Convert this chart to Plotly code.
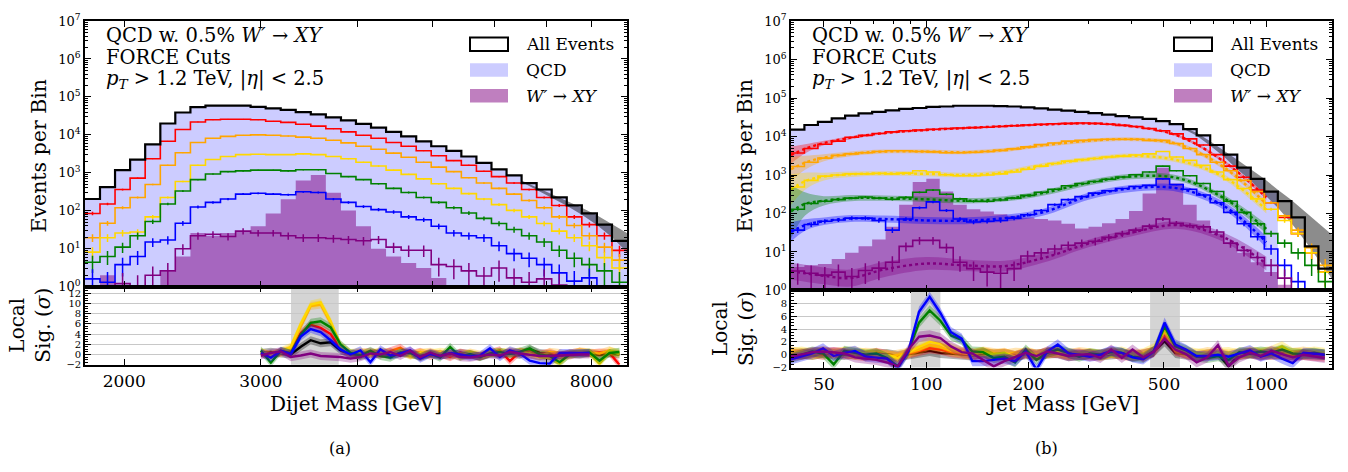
import numpy as np
import plotly.graph_objects as go

FONT = "DejaVu Serif"
W, H = 1348, 472

# ======================= panel (a): dijet mass =======================
mjj_edges = [1780, 1861, 1946, 2035, 2128, 2226, 2327, 2434, 2545, 2661, 2783, 2910,
             3043, 3182, 3327, 3479, 3638, 3805, 3978, 4160, 4350, 4549, 4757, 4974,
             5202, 5439, 5688, 5948, 6220, 6504, 6801, 7112, 7437, 7777, 8133, 8505, 8893]

a_all = [204, 417, 1175, 2239, 5623, 19950, 38900, 53700, 58900, 58900, 58900, 55000,
         50100, 45700, 39800, 34700, 28800, 24000, 19500, 15500, 12000, 9120, 6760, 5010,
         3800, 2690, 1820, 1230, 851, 537, 363, 224, 138, 85, 43, 16]
a_qcd = [203, 414, 1170, 2230, 5620, 19900, 38800, 53600, 58800, 58800, 58800, 54900,
         50000, 45500, 39200, 33800, 28500, 23900, 19400, 15500, 12000, 9110, 6750, 5000,
         3800, 2690, 1820, 1230, 850, 536, 362, 224, 138, 85, 43, 16]
a_sig = [0.5, 2.0, 0.5, 0.5, 0.5, 2.5, 6.2, 26, 22, 26, 29, 39,
         85, 200, 630, 870, 300, 102, 39, 10, 6.2, 4.2, 3.1, 1.7,
         0.5, 0.5, 0.5, 0.5, 0.5, 0.5, 0.5, 0.5, 0.5, 0.5, 0.5, 0.5]
a_red = [85, 151, 363, 724, 2344, 6761, 13800, 21900, 25100, 25700, 25700, 25100,
         22900, 21400, 19100, 17000, 14500, 12000, 9770, 8130, 6310, 5010, 3800, 2820,
         2090, 1585, 1096, 794, 537, 363, 224, 138, 69, 43, 22, 9]
a_orange = [19.5, 47, 120, 224, 490, 1585, 3390, 6310, 8130, 9120, 9770, 10000,
            9770, 9330, 8710, 8130, 7240, 6170, 5010, 4170, 3310, 2570, 1905, 1413,
            1072, 741, 537, 389, 275, 186, 120, 69, 41, 22, 11, 5]
a_gold = [8.1, 19.5, 26, 27.5, 69, 224, 589, 1585, 2240, 2690, 3020, 3090,
          3020, 3020, 3160, 3020, 2690, 2340, 1905, 1514, 1175, 912, 692, 513,
          389, 282, 204, 145, 102, 69, 46, 29, 19.5, 12, 5.8, 3.1]
a_green = [4.4, 6.2, 11, 22, 52, 151, 331, 661, 933, 1072, 1122, 1175,
           1175, 1122, 1202, 1202, 955, 794, 661, 513, 389, 302, 224, 166,
           120, 87, 63, 46, 32, 22, 15, 9.1, 5.6, 3.8, 2.6, 1.3]
a_blue = [1.6, 1.3, 3.8, 6.2, 15, 17, 47, 126, 166, 204, 275, 288,
          275, 263, 316, 302, 204, 166, 129, 107, 93, 69, 58, 39,
          26, 22, 19.5, 12, 7.4, 5.6, 3.8, 2.3, 1.4, 1.7, 0.8, 0.5]
a_purple = [0.5, 0.6, 1.2, 1.0, 2.0, 2.6, 10, 22, 24, 21, 29, 26,
            26, 22, 19.5, 19.5, 18.6, 17.4, 16.2, 17.4, 11, 9.1, 9.1, 3.8,
            3.4, 2.6, 1.9, 3.1, 1.7, 1.3, 1.6, 1.1, 0.5, 0.5, 0.5, 0.5]
# fit band on the inclusive spectrum (upper / lower edges)
a_band_x = [6504, 6801, 7112, 7437, 7777, 8133, 8505, 8893]
a_band_hi = [631, 417, 282, 186, 120, 76, 45, 26]
a_band_lo = [575, 355, 224, 135, 79, 42, 20, 8]

# local significance, panel (a)
a_sig_x = [3000, 3090, 3183, 3278, 3377, 3478, 3582, 3690, 3800, 3914, 4032, 4153, 4277,
           4406, 4538, 4674, 4814, 4959, 5107, 5261, 5418, 5581, 5748, 5921, 6098, 6281,
           6470, 6664, 6864, 7070, 7282, 7500, 7725, 7957, 8196, 8442, 8695]
a_z_black = [0.3, 0.5, 0.2, 0.0, 1.5, 2.8, 2.2, 2.4, 0.8, 0.0, -0.3, 0.2, 0.3, -0.2, 0.4,
             0.1, -0.3, 0.2, 0.0, -0.2, 0.3, 0.1, -0.4, 0.2, 0.0, 0.3, -0.1, 1.0, 0.3, 0.1,
             -0.2, 0.2, 0.0, 0.3, -0.1, 0.2, 0.0]
a_z_red = [0.2, -0.2, 0.5, 0.7, 4.2, 5.8, 5.2, 4.0, 1.2, 0.0, 0.3, 0.5, 0.0, 0.6, 1.3, 0.0,
           0.5, -0.3, 0.2, -0.5, 0.4, 0.0, -0.4, 0.3, 0.8, -1.3, 0.5, 0.4, 0.0, 0.4, -0.3,
           0.2, 0.5, 0.2, 0.4, 0.3, -2.0]
a_z_orange = [0.4, 0.0, 0.3, 1.2, 5.5, 9.5, 9.8, 6.2, 1.5, 0.2, 0.4, 0.0, 0.5, 0.3, 0.6,
              -0.2, 0.3, 0.5, 0.0, 0.2, -0.3, 0.4, 0.0, 0.3, 0.5, 0.2, 0.6, 0.0, -0.4, 0.5,
              0.3, -0.3, 0.6, 0.4, 0.2, 0.8, 0.0]
a_z_gold = [0.5, -0.3, 0.6, 1.5, 6.0, 9.8, 10.2, 6.5, 1.8, 0.3, 0.5, 0.2, 0.6, 0.3, 0.8,
            -0.2, 0.4, 0.2, 0.5, 0.3, -0.4, 0.2, -0.3, 0.5, 0.3, 0.6, 0.4, 0.2, -0.5, -0.8,
            -1.8, 0.2, 0.5, 0.3, -1.9, 0.7, 0.3]
a_z_green = [0.8, -1.6, 0.7, 0.2, 3.8, 6.2, 6.5, 5.3, 2.0, 0.3, -0.2, 0.7, -0.3, -0.6, 0.4,
             0.3, -0.5, 0.2, -0.6, 1.5, -0.4, 0.1, -0.5, 0.2, 0.5, 0.1, 0.5, 1.2, 0.0, -0.3,
             -1.5, 0.0, 0.2, 0.4, -1.2, 0.3, 0.5]
a_z_blue = [0.3, -0.6, 0.7, 0.1, 3.5, 5.0, 4.4, 2.8, 1.0, 0.0, 0.8, -1.5, 1.0, -0.2, 0.2,
            0.8, -0.8, 0.1, -0.3, 0.3, 0.0, -0.4, -0.2, 1.2, -0.5, 0.8, 0.2, -1.2, -1.7,
            -1.8, 0.3, 0.3, 0.3, 0.3, None, None, None]
a_z_purple = [-0.2, 0.3, 0.6, -0.5, -0.2, 0.2, -0.3, -0.4, -0.5, -0.8, -0.5, 0.2, 0.0, 0.5,
              -0.3, 0.7, -0.5, 0.4, -0.3, 0.2, -0.5, -0.6, -0.3, 0.0, -0.2, 0.5, 0.2, 0.0,
              -0.3, -0.3, -0.2, 0.0, 0.0, 0.0, None, None, None]
a_window = [3280, 3780]

# ======================= panel (b): jet mass =======================
mj_edges = [40, 43.8, 48, 52.7, 57.7, 63.2, 69.3, 75.9, 83.2, 91.2, 100, 109.5, 120, 131.5,
            144.2, 158, 173.1, 189.7, 207.9, 227.9, 249.7, 273.7, 299.9, 328.7, 360.2,
            394.7, 432.6, 474.1, 519.5, 569.4, 624, 683.8, 749.4, 821.3, 900, 986.3, 1081,
            1185, 1298, 1423, 1560]
b_all = [15100, 19950, 24000, 29500, 34700, 39800, 43700, 47900, 52500, 55000, 58900, 60300,
         63100, 63100, 63100, 61700, 60300, 57500, 53700, 50100, 46800, 43700, 40700, 37200,
         33900, 31600, 28800, 25100, 20900, 15500, 10700, 6030, 3390, 1550, 794, 372, 209, 79,
         14, 3.7]
b_qcd = [15000, 19900, 24000, 29500, 34700, 39800, 43700, 47900, 52300, 54500, 58200, 59900,
         63000, 63000, 63000, 61600, 60200, 57400, 53600, 50000, 46700, 43600, 40600, 37100,
         33800, 31500, 28500, 23500, 20300, 15300, 10600, 6000, 3370, 1540, 790, 370,
         0.01, 0.01, 0.01, 0.01]
b_sig = [4.1, 4.5, 4.9, 6.6, 9.5, 14, 21, 45, 170, 660, 794, 372, 170, 129, 112, 95, 87, 79,
         72, 66, 54, 41, 45, 56, 72, 117, 331, 1550, 603, 170, 66, 30, 17, 9.5, 5.4, 3.0,
         1.4, 0.01, 0.01, 0.01]
b_red = [3720, 4900, 6310, 7590, 9550, 10700, 12000, 13200, 14100, 14800, 15500, 16200,
         16600, 17000, 17400, 18200, 19100, 20000, 20900, 21400, 21900, 22400, 21900, 20900,
         19500, 18200, 16200, 14100, 11700, 8710, 6030, 3390, 1700, 871, 407, 191, 79, 30,
         9.5, 3.0]
b_orange = [1660, 2140, 2750, 3240, 3550, 3800, 4070, 4270, 4270, 4070, 3980, 3800, 3800,
            3890, 4070, 4370, 4790, 5370, 6170, 6760, 7590, 7940, 8320, 8510, 8510, 8510,
            7940, 7940, 6610, 4900, 3390, 2140, 1290, 724, 372, 191, 87, 37, 13, 4.5]
b_gold = [490, 724, 933, 1000, 1070, 1070, 1100, 1070, 1120, 1290, 1200, 1020, 955, 955,
          1000, 1070, 1200, 1410, 1700, 2000, 2290, 2510, 2690, 2950, 3090, 3310, 3550,
          4070, 2950, 2400, 1780, 1200, 759, 447, 240, 129, 66, 30, 9.5, 3.0]
b_green = [129, 182, 209, 229, 251, 269, 251, 234, 263, 355, 407, 316, 240, 209, 209, 224,
           251, 295, 355, 427, 525, 603, 676, 776, 891, 1020, 1200, 1700, 1290, 955, 603,
           372, 209, 107, 54, 30, 17, 9.5, 4.5, 1.7]
b_blue = [37, 52, 63, 68, 76, 76, 66, 37, 72, 141, 200, 120, 72, 60, 63, 66, 76, 93, 120,
          170, 229, 275, 339, 389, 447, 501, 537, 794, 562, 427, 302, 191, 107, 54, 25, 12,
          4.5, 1.7, 0.01, 0.01]
b_purple = [3.2, 2.8, 2.5, 3.0, 2.3, 3.3, 3.8, 5.4, 14, 20, 20, 13, 5.4, 3.7, 3.0, 2.8, 3.7,
            7.9, 9.5, 12, 15, 17, 19, 24, 30, 37, 47, 72, 56, 49, 45, 33, 17, 11, 7.2, 4.5,
            2.1, 0.01, 0.01, 0.01]
b_band_x = [569.4, 624, 683.8, 749.4, 821.3, 900, 986.3, 1081, 1185, 1298, 1423, 1560]
b_band_hi = [17400, 12600, 7590, 4470, 2510, 1410, 794, 417, 224, 112, 56, 28]
b_band_lo = [15800, 10500, 5750, 3020, 1410, 708, 316, 141, 56, 20, 6.3, 2.0]

# background fits (dotted) and their uncertainty (in decades), panel (b)
b_fit_x = [40, 44, 50, 60, 75, 100, 130, 170, 220, 300, 400, 550, 750, 1000]
b_fit_red = [3311, 4786, 6761, 9333, 12300, 14790, 16600, 18620, 20420, 21880, 18620, 10470, 2239, 263]
b_fit_orange = [1413, 2089, 2818, 3548, 4074, 4074, 3890, 4467, 5888, 7762, 8511, 6310, 1585, 178]
b_fit_gold = [417, 692, 912, 1047, 1096, 1072, 1000, 1175, 1778, 2570, 3162, 2399, 891, 126]
b_fit_green = [112, 178, 214, 251, 251, 234, 214, 240, 339, 631, 912, 832, 251, 40]
b_fit_blue = [33, 50, 63, 74, 72, 66, 65, 76, 107, 282, 447, 447, 158, 18]
b_fit_purple = [3.2, 2.8, 2.4, 2.1, 3.5, 5.0, 4.5, 4.3, 6.9, 16.6, 31.6, 50, 24, 5.0]
b_unc_red = [0.22, 0.12, 0.06, 0.04, 0.03, 0.03, 0.03, 0.03, 0.03, 0.03, 0.03, 0.03, 0.04, 0.06]
b_unc_orange = [0.32, 0.18, 0.09, 0.06, 0.05, 0.05, 0.05, 0.05, 0.05, 0.05, 0.05, 0.05, 0.06, 0.08]
b_unc_gold = [0.40, 0.22, 0.10, 0.07, 0.06, 0.06, 0.06, 0.06, 0.06, 0.06, 0.06, 0.06, 0.07, 0.10]
b_unc_green = [0.70, 0.30, 0.12, 0.08, 0.07, 0.07, 0.07, 0.07, 0.07, 0.07, 0.07, 0.07, 0.08, 0.12]
b_unc_blue = [0.25, 0.15, 0.10, 0.09, 0.09, 0.09, 0.09, 0.09, 0.09, 0.09, 0.09, 0.09, 0.10, 0.15]
b_unc_purple = [0.22, 0.22, 0.22, 0.22, 0.20, 0.17, 0.15, 0.14, 0.12, 0.10, 0.10, 0.10, 0.12, 0.18]

b_sig_x = [40, 43, 46.2, 49.7, 53.4, 57.4, 61.7, 66.3, 71.3, 76.6, 82.4, 88.5, 95.2, 102.3,
           110, 118.2, 127.1, 136.6, 146.9, 157.9, 169.7, 182.4, 196.1, 210.8, 226.6, 243.6,
           261.9, 281.5, 302.6, 325.3, 349.7, 375.9, 404.1, 434.4, 467, 502, 539.7, 580.1,
           623.7, 670.4, 720.7, 774.8, 832.9, 895.3, 962.5, 1034.7, 1112.3, 1195.7, 1285.3,
           1381.7, 1485]
b_z_black = [0.0, 0.2, 0.0, 0.3, 0.1, 0.0, 0.2, -0.1, 0.0, 0.1, -0.2, 0.1, 0.3, 0.6, 0.3,
             0.2, 0.0, -0.1, 0.2, 0.0, 0.1, -0.2, 0.1, 0.0, 0.2, 0.3, -0.2, 0.0, 0.1, -0.1,
             0.0, 0.2, -0.3, 0.0, 0.5, 2.1, 0.3, 0.0, -0.2, 0.0, 0.1, -1.8, 0.0, 0.2, 0.0,
             0.1, 0.0, -0.1, 0.1, 0.0, 0.0]
b_z_red = [0.2, 0.0, 0.3, 0.0, 0.4, 0.2, 0.0, -0.2, 0.3, 0.0, -0.4, 0.2, 0.6, 1.0, 0.8, 0.4,
           0.2, 0.0, 0.3, 0.0, 0.2, -0.2, 0.3, 0.0, 0.2, 0.4, 0.0, 0.2, -0.2, 0.0, 0.3, 0.0,
           -0.2, 0.1, 0.4, 3.0, 0.6, 0.2, -0.3, 0.0, 0.2, -0.2, 0.0, 0.3, 0.1, 0.0, 0.2, -0.1,
           0.0, -0.2, -0.3]
b_z_orange = [0.5, 0.3, 0.0, 0.4, 0.2, 0.5, 0.0, 0.3, 0.2, -0.3, 0.0, 0.3, 0.8, 1.5, 1.2,
              0.6, 0.3, 0.0, 0.5, 0.2, 0.0, 0.3, 0.2, -0.2, 0.5, 0.3, 0.0, 0.4, 0.2, 0.0, 0.3,
              0.2, 0.0, -0.3, 0.6, 3.5, 0.9, 0.3, 0.0, 0.4, 0.2, 0.0, 0.3, 0.5, 0.2, 0.4, 0.0,
              0.3, 0.5, 0.2, 0.0]
b_z_gold = [0.3, 0.5, 0.2, 0.6, 0.0, 0.4, 0.5, 0.2, -0.2, 0.0, -0.5, 0.4, 1.2, 2.0, 1.7,
            1.0, 0.5, 0.2, 0.4, 0.0, 0.3, -0.3, 0.5, 0.0, 0.2, 0.5, 0.3, 0.0, 0.2, -0.2, 0.3,
            0.5, 0.0, 0.2, 1.0, 4.0, 1.0, 0.5, 0.2, 0.0, 0.3, 0.4, 0.0, 0.5, 0.3, 0.6, 1.3,
            0.3, 0.2, 0.5, 0.3]
b_z_green = [-0.5, 0.0, 0.5, 0.2, -1.5, 0.6, 0.3, 0.0, 0.2, -0.5, -1.8, 0.5, 5.0, 6.9, 5.3,
             3.0, 2.3, 0.5, 0.4, -0.5, -0.3, -1.2, 0.8, -0.8, 0.3, 0.8, 0.3, -0.3, 0.2, 0.0,
             0.4, 0.3, -0.3, -0.5, 0.6, 4.4, 1.3, 0.7, -0.3, -0.5, -0.2, -0.8, 0.4, 0.2, 0.5,
             0.3, 0.8, 0.2, 0.1, 0.3, 0.0]
b_z_blue = [-0.7, -0.2, 0.2, 1.0, -0.2, 0.3, 0.6, -0.3, -0.5, -0.6, -2.1, 0.5, 6.7, 9.0, 6.5,
            3.5, 2.5, -1.0, -1.0, -0.8, -0.6, -1.0, 0.5, -2.3, 0.5, 1.6, 0.2, 0.0, -0.3, 0.0,
            0.6, 0.3, -0.4, -0.7, 0.5, 5.0, 1.6, 0.8, -0.2, -0.2, 0.0, -0.3, 0.2, 0.7, -0.3,
            0.2, -0.6, -1.3, 0.3, 0.1, 0.0]
b_z_purple = [-0.3, 0.0, 0.4, 0.5, 0.3, 0.2, -0.4, -0.6, -0.8, -1.2, -1.8, 0.8, 2.8, 3.0,
              2.6, 1.3, 0.4, 0.2, -0.8, -1.8, -1.0, -0.3, 0.3, -0.2, 0.5, 0.2, -0.2, 0.0, 0.1,
              -0.5, 0.8, -0.5, 0.8, -0.4, 0.5, 2.5, 0.8, 0.1, -1.2, -0.4, 1.5, -1.7, -0.4, 0.3,
              -0.2, 0.6, 0.1, -0.4, 0.0, -0.2, -0.5]
b_windows = [[90, 110], [455, 557]]

SIG_HALF_WIDTH = 0.8

COL = {"black": "#000000", "red": "#ff0000", "orange": "#ffa500", "gold": "#ffd700",
       "green": "#008000", "blue": "#0000ff", "purple": "#800080"}
QCD_FILL = "rgba(0,0,255,0.2)"
SIG_FILL = "rgba(128,0,128,0.5)"

fig = go.Figure()


def rgba(hexc, a):
    hexc = hexc.lstrip("#")
    r, g, b = int(hexc[0:2], 16), int(hexc[2:4], 16), int(hexc[4:6], 16)
    return f"rgba({r},{g},{b},{a})"


def add_fill(edges, vals, color, xa, ya):
    x = list(edges)
    y = list(vals) + [vals[-1]]
    fig.add_trace(go.Scatter(x=x, y=[1e-3] * len(x), mode="lines",
                             line=dict(width=0, shape="hv"), hoverinfo="skip",
                             showlegend=False, xaxis=xa, yaxis=ya))
    fig.add_trace(go.Scatter(x=x, y=y, mode="lines", line=dict(width=0, shape="hv"),
                             fill="tonexty", fillcolor=color, showlegend=False,
                             xaxis=xa, yaxis=ya))


def add_step(edges, vals, color, width, xa, ya, errors=True):
    x = list(edges)
    y = list(vals) + [vals[-1]]
    fig.add_trace(go.Scatter(x=x, y=y, mode="lines", line=dict(color=color, width=width, shape="hv"),
                             showlegend=False, xaxis=xa, yaxis=ya))
    if errors:
        e = np.array(edges, dtype=float)
        c = np.sqrt(e[:-1] * e[1:])
        v = np.array(vals, dtype=float)
        err = np.where(v >= 1, np.sqrt(np.maximum(v, 0)), 0.0)
        errm = np.minimum(err, v * 0.999)
        fig.add_trace(go.Scatter(x=c, y=v, mode="markers", marker=dict(size=1, color=color),
                                 error_y=dict(type="data", symmetric=False, array=err,
                                              arrayminus=errm, color=color, thickness=1.5, width=0),
                                 showlegend=False, xaxis=xa, yaxis=ya))


def add_band(x, lo, hi, color, xa, ya, shape="linear"):
    fig.add_trace(go.Scatter(x=x, y=hi, mode="lines", line=dict(width=0, shape=shape),
                             hoverinfo="skip", showlegend=False, xaxis=xa, yaxis=ya))
    fig.add_trace(go.Scatter(x=x, y=lo, mode="lines", line=dict(width=0, shape=shape),
                             fill="tonexty", fillcolor=color, showlegend=False, xaxis=xa, yaxis=ya))


def add_fit(x, center, unc, color, xa, ya):
    c = np.array(center, dtype=float)
    f = 10 ** np.array(unc, dtype=float)
    add_band(x, c / f, c * f, rgba(color, 0.35), xa, ya, shape="spline")
    fig.add_trace(go.Scatter(x=x, y=c, mode="lines",
                             line=dict(color=color, width=2.4, dash="dot", shape="spline"),
                             showlegend=False, xaxis=xa, yaxis=ya))


def add_sig(x, z, color, xa, ya):
    hi = [None if v is None else v + SIG_HALF_WIDTH for v in z]
    lo = [None if v is None else v - SIG_HALF_WIDTH for v in z]
    add_band(x, lo, hi, rgba(color, 0.3), xa, ya)
    fig.add_trace(go.Scatter(x=x, y=z, mode="lines", line=dict(color=color, width=2.4),
                             showlegend=False, xaxis=xa, yaxis=ya))


# ---------- panel (a) main ----------
add_fill(mjj_edges, a_qcd, QCD_FILL, "x", "y")
add_fill(mjj_edges, a_sig, SIG_FILL, "x", "y")
add_band(a_band_x, a_band_lo, a_band_hi, "rgba(0,0,0,0.45)", "x", "y")
for name, vals in [("red", a_red), ("orange", a_orange), ("gold", a_gold),
                   ("green", a_green), ("blue", a_blue), ("purple", a_purple)]:
    add_step(mjj_edges, vals, COL[name], 1.6, "x", "y")
add_step(mjj_edges, a_all, COL["black"], 2.2, "x", "y", errors=False)

# ---------- panel (a) significance ----------
for name, z in [("black", a_z_black), ("red", a_z_red), ("orange", a_z_orange), ("gold", a_z_gold),
                ("green", a_z_green), ("blue", a_z_blue), ("purple", a_z_purple)]:
    add_sig(a_sig_x, z, COL[name], "x2", "y2")

# ---------- panel (b) main ----------
add_fill(mj_edges, b_qcd, QCD_FILL, "x3", "y3")
add_fill(mj_edges, b_sig, SIG_FILL, "x3", "y3")
add_band(b_band_x, b_band_lo, b_band_hi, "rgba(0,0,0,0.45)", "x3", "y3")
for name, fit, unc in [("red", b_fit_red, b_unc_red), ("orange", b_fit_orange, b_unc_orange),
                       ("gold", b_fit_gold, b_unc_gold), ("green", b_fit_green, b_unc_green),
                       ("blue", b_fit_blue, b_unc_blue), ("purple", b_fit_purple, b_unc_purple)]:
    add_fit(b_fit_x, fit, unc, COL[name], "x3", "y3")
for name, vals in [("red", b_red), ("orange", b_orange), ("gold", b_gold),
                   ("green", b_green), ("blue", b_blue), ("purple", b_purple)]:
    add_step(mj_edges, vals, COL[name], 1.6, "x3", "y3")
add_step(mj_edges, b_all, COL["black"], 2.2, "x3", "y3", errors=False)

# ---------- panel (b) significance ----------
for name, z in [("black", b_z_black), ("red", b_z_red), ("orange", b_z_orange), ("gold", b_z_gold),
                ("green", b_z_green), ("blue", b_z_blue), ("purple", b_z_purple)]:
    add_sig(b_sig_x, z, COL[name], "x4", "y4")

# ---------- signal windows ----------
fig.add_shape(type="rect", x0=a_window[0], x1=a_window[1], xref="x2", yref="y2 domain", y0=0, y1=1,
              fillcolor="rgba(0,0,0,0.17)", line_width=0, layer="below")
for w0, w1 in b_windows:
    fig.add_shape(type="rect", x0=w0, x1=w1, xref="x4", yref="y4 domain", y0=0, y1=1,
                  fillcolor="rgba(0,0,0,0.17)", line_width=0, layer="below")

# ---------- axes ----------
def px(xp):
    return xp / W


def py(yp):
    return 1 - yp / H


A_X = [px(85), px(627)]
B_X = [px(791), px(1332)]
A_MAIN = [py(288), py(12.5)]
A_LOW = [py(369), py(288)]
B_MAIN = [py(292), py(12.5)]
B_LOW = [py(372), py(292)]

ytick_vals = [10 ** k for k in range(0, 8)]
ytick_text = [f"10<sup>{k}</sup>" for k in range(0, 8)]
ymin_vals = [m * 10 ** k for k in range(0, 7) for m in range(2, 10)]

axis_common = dict(showline=True, linecolor="black", linewidth=1.6, mirror="allticks",
                   ticks="inside", ticklen=6, tickwidth=1.2, tickcolor="black",
                   showgrid=False, zeroline=False,
                   tickfont=dict(family=FONT, size=17, color="black"))

a_xt = [2000, 3000, 4000, 5000, 6000, 7000, 8000]
a_xl = ["2000", "3000", "4000", "", "6000", "", "8000"]
b_xt = [50, 100, 200, 500, 1000]
b_xminor = [40, 60, 70, 80, 90, 300, 400, 600, 700, 800, 900]
ytf = dict(family=FONT, size=13, color="black")
ltf = dict(family=FONT, size=10, color="black")

fig.update_layout(
    width=W, height=H, margin=dict(l=0, r=0, t=0, b=0),
    paper_bgcolor="white", plot_bgcolor="white", showlegend=False,
    xaxis=dict(axis_common, domain=A_X, type="log", anchor="y",
               range=[np.log10(mjj_edges[0]), np.log10(mjj_edges[-1])],
               tickvals=a_xt, ticktext=a_xl, showticklabels=False),
    yaxis=dict(axis_common, domain=A_MAIN, type="log", anchor="x", range=[0, 7],
               tickvals=ytick_vals, ticktext=ytick_text, tickfont=ytf,
               minor=dict(tickmode="array", tickvals=ymin_vals, ticks="inside", ticklen=3,
                          tickcolor="black", showgrid=False)),
    xaxis2=dict(axis_common, domain=A_X, type="log", anchor="y2", matches="x",
                range=[np.log10(mjj_edges[0]), np.log10(mjj_edges[-1])],
                tickvals=a_xt, ticktext=a_xl),
    yaxis2=dict(axis_common, domain=A_LOW, anchor="x2", range=[-2, 13.3],
                tickvals=list(range(-2, 13, 2)), showgrid=True, gridcolor="#c8c8c8", gridwidth=1.4,
                tickfont=ltf,
                minor=dict(dtick=0.5, ticks="inside", ticklen=3, tickcolor="black", showgrid=False)),
    xaxis3=dict(axis_common, domain=B_X, type="log", anchor="y3",
                range=[np.log10(mj_edges[0]), np.log10(mj_edges[-1])],
                tickvals=b_xt, showticklabels=False,
                minor=dict(tickmode="array", tickvals=b_xminor, ticks="inside", ticklen=3,
                           tickcolor="black", showgrid=False)),
    yaxis3=dict(axis_common, domain=B_MAIN, type="log", anchor="x3", range=[0, 7],
                tickvals=ytick_vals, ticktext=ytick_text, tickfont=ytf,
                minor=dict(tickmode="array", tickvals=ymin_vals, ticks="inside", ticklen=3,
                           tickcolor="black", showgrid=False)),
    xaxis4=dict(axis_common, domain=B_X, type="log", anchor="y4", matches="x3",
                range=[np.log10(mj_edges[0]), np.log10(mj_edges[-1])],
                tickvals=b_xt, ticktext=[str(v) for v in b_xt],
                minor=dict(tickmode="array", tickvals=b_xminor, ticks="inside", ticklen=3,
                           tickcolor="black", showgrid=False)),
    yaxis4=dict(axis_common, domain=B_LOW, anchor="x4", range=[-2, 10],
                tickvals=list(range(-2, 9, 2)), showgrid=True, gridcolor="#c8c8c8", gridwidth=1.4,
                tickfont=ltf,
                minor=dict(dtick=0.5, ticks="inside", ticklen=3, tickcolor="black", showgrid=False)),
)

# ---------- text ----------
def note(text, x, y, size, xanchor="center", yanchor="middle", angle=0):
    fig.add_annotation(text=text, x=px(x), y=py(y), xref="paper", yref="paper",
                       xanchor=xanchor, yanchor=yanchor, showarrow=False, textangle=angle,
                       font=dict(family=FONT, size=size, color="black"))


for x0, xl0, cx, title, lab, ylab_x, lowlab_x, lowc in [
        (104, 470, 356, "Dijet Mass [GeV]", "(a)", 39, 30, 328.5),
        (810, 1174, 1062, "Jet Mass [GeV]", "(b)", 745, 733, 332)]:
    note("QCD w. 0.5% <i>W′</i> → <i>XY</i>", x0, 27, 19.5, xanchor="left")
    note("FORCE Cuts", x0, 50, 19.5, xanchor="left")
    note("<i>p<sub>T</sub></i> > 1.2 TeV, |<i>η</i>| < 2.5", x0, 73, 19.5, xanchor="left")
    note(title, cx, 410, 20)
    note(lab, cx - 16, 456, 16)
    note("Events per Bin", ylab_x, 152, 20.5, angle=-90)
    note("Local<br>Sig. (<i>σ</i>)", lowlab_x, lowc, 20, angle=-90)
    boxes = [("All Events", "white", "black"), ("QCD", QCD_FILL, None),
             ("<i>W′</i> → <i>XY</i>", SIG_FILL, None)]
    for i, (txt, fc, lc) in enumerate(boxes):
        yc = 36.5 + 26.8 * i
        fig.add_shape(type="rect", xref="paper", yref="paper",
                      x0=px(xl0), x1=px(xl0 + 38), y0=py(yc + 7), y1=py(yc - 7),
                      fillcolor=fc, line=dict(color=lc if lc else fc, width=2 if lc else 0))
        note(txt, xl0 + 54, yc, 17, xanchor="left")

fig.write_html("out.html", post_script="document.body.style.margin='0px';",
               config={"displayModeBar": False})
